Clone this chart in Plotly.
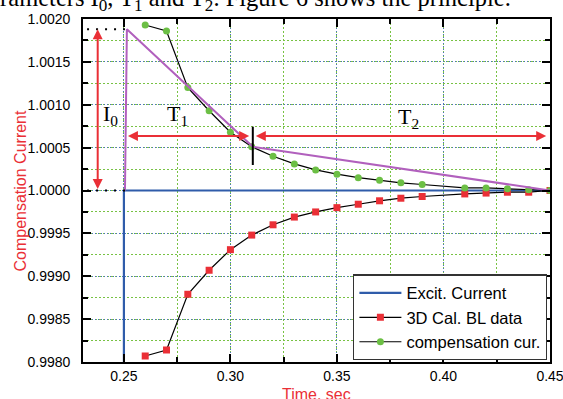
import plotly.graph_objects as go

# ---- data ----
excit_x = [0.25, 0.25, 0.45]
excit_y = [0.9970, 1.0000, 1.0000]

time_pts = [0.26, 0.27, 0.28, 0.29, 0.30, 0.31, 0.32, 0.33, 0.34, 0.35,
            0.36, 0.37, 0.38, 0.39, 0.41, 0.42, 0.43, 0.44, 0.45]
bl_data = [0.99807, 0.99814, 0.99879, 0.99907, 0.99931, 0.99948, 0.99960, 0.99969,
           0.99975, 0.99980, 0.99984, 0.99988, 0.99991, 0.99993, 0.99996, 0.99997,
           0.99998, 0.99998, 1.00000]
comp_cur = [1.00193, 1.00186, 1.00120, 1.00093, 1.00068, 1.00051, 1.00040, 1.00031,
            1.00024, 1.00019, 1.00015, 1.00012, 1.00009, 1.00007, 1.00003, 1.00003,
            1.00002, 1.00001, 1.00000]

approx_x = [0.2505, 0.2514, 0.3105, 0.45]
approx_y = [1.0000, 1.00188, 1.00051, 1.0000]

x_ticks = [0.25, 0.30, 0.35, 0.40, 0.45]
y_ticks = [0.9980, 0.9985, 0.9990, 0.9995, 1.0000, 1.0005, 1.0010, 1.0015, 1.0020]

I0_top = 1.00188
I0_x = 0.2377
T_y = 1.000636
T1_span = [0.2512, 0.3088]
T2_span = [0.3112, 0.4482]
split_x = 0.3105
split_y = [1.000297, 1.000744]

RED = "#ea2f36"
BLUE = "#2f5caa"
PURPLE = "#b160bd"
GREEN = "#6cbf45"
SANS = "Liberation Sans, Arial, sans-serif"
SERIF = "Liberation Serif, Times New Roman, serif"

fig = go.Figure()
fig.add_trace(go.Scatter(x=excit_x, y=excit_y, mode="lines", name="Excit. Current",
                         line=dict(color=BLUE, width=2.2)))
fig.add_trace(go.Scatter(x=time_pts, y=bl_data, mode="lines+markers", name="3D Cal. BL data",
                         line=dict(color="black", width=1.2),
                         marker=dict(symbol="square", color=RED, size=7)))
fig.add_trace(go.Scatter(x=time_pts, y=comp_cur, mode="lines+markers", name="compensation cur.",
                         line=dict(color="black", width=1.2),
                         marker=dict(symbol="circle", color=GREEN, size=7)))
fig.add_trace(go.Scatter(x=approx_x, y=approx_y, mode="lines", showlegend=False,
                         line=dict(color=PURPLE, width=2)))

# dotted guide lines and split marker
for yy in (I0_top, 1.0):
    fig.add_shape(type="line", x0=0.2327, x1=0.2505, y0=yy, y1=yy, xref="x", yref="y",
                  line=dict(color="black", width=2, dash="2px,7px"))
fig.add_shape(type="line", x0=split_x, x1=split_x, y0=split_y[0], y1=split_y[1],
              xref="x", yref="y", line=dict(color="black", width=2))

def darrow(x0, y0, x1, y1):
    fig.add_annotation(x=x1, y=y1, ax=x0, ay=y0, xref="x", yref="y", axref="x", ayref="y",
                       text="", showarrow=True, arrowhead=2, arrowside="end+start",
                       arrowsize=1, arrowwidth=2, arrowcolor=RED)

darrow(I0_x, 1.0, I0_x, I0_top)
darrow(T1_span[0], T_y, T1_span[1], T_y)
darrow(T2_span[0], T_y, T2_span[1], T_y)

for txt, xx, yy in (("I<sub>0</sub>", 0.2435, 1.00088),
                    ("T<sub>1</sub>", 0.2752, 1.00088),
                    ("T<sub>2</sub>", 0.3836, 1.000845)):
    fig.add_annotation(x=xx, y=yy, xref="x", yref="y", text=txt, showarrow=False,
                       font=dict(family=SERIF, size=22, color="black"))

# cut-off caption text from the source page
fig.add_annotation(x=-0.232, y=1.058, xref="paper", yref="paper", xanchor="left",
                   yanchor="middle", showarrow=False,
                   text="parameters I<sub>0</sub>, T<sub>1</sub> and T<sub>2</sub>. Figure 6 shows the principle.",
                   font=dict(family=SERIF, size=24.5, color="black"))

# axis titles
fig.add_annotation(x=0.5, y=-0.0933, xref="paper", yref="paper", showarrow=False,
                   xanchor="center", yanchor="middle",
                   text="Time. sec", font=dict(family=SANS, size=16, color=RED))
fig.add_annotation(x=-0.1349, y=0.5, xref="paper", yref="paper", showarrow=False,
                   xanchor="center", yanchor="middle",
                   textangle=-90, text="Compensation Current",
                   font=dict(family=SANS, size=16, color=RED))

axis_common = dict(showline=True, linecolor="black", linewidth=1.6, mirror="ticks",
                   ticks="inside", ticklen=8, tickwidth=1.5, tickcolor="black",
                   showgrid=True, gridcolor="#4d6fc0", gridwidth=1, griddash="1px,2px",
                   zeroline=False, automargin=False, ticklabeloverflow="allow",
                   tickfont=dict(family=SANS, size=14, color="black"))

fig.update_xaxes(range=[0.2308, 0.45], tickmode="array", tickvals=x_ticks,
                 ticktext=[f"{v:.2f}" for v in x_ticks], ticklabelstandoff=0,
                 minor=dict(dtick=0.025, tick0=0.25, ticks="inside", ticklen=5, tickcolor="black",
                            showgrid=True, gridcolor="#78c244", griddash="2px,2px", gridwidth=1),
                 **axis_common)
fig.update_yaxes(range=[0.9980, 1.0020], tickmode="array", tickvals=y_ticks,
                 ticktext=[f"{v:.4f}" for v in y_ticks], ticklabelstandoff=8,
                 minor=dict(dtick=0.00025, tick0=0.998, ticks="inside", ticklen=5, tickcolor="black",
                            showgrid=True, gridcolor="#78c244", griddash="2px,2px", gridwidth=1),
                 **axis_common)

fig.update_layout(
    width=563, height=399,
    margin=dict(l=83, r=13, t=19, b=37),
    paper_bgcolor="white", plot_bgcolor="white",
    showlegend=True,
    legend=dict(x=0.994, y=0.13, xanchor="right", yanchor="middle",
                bgcolor="white", bordercolor="#333333", borderwidth=1.2, itemwidth=42,
                font=dict(family=SANS, size=16.5, color="black"), tracegroupgap=0),
)

fig.write_html("out.html")
